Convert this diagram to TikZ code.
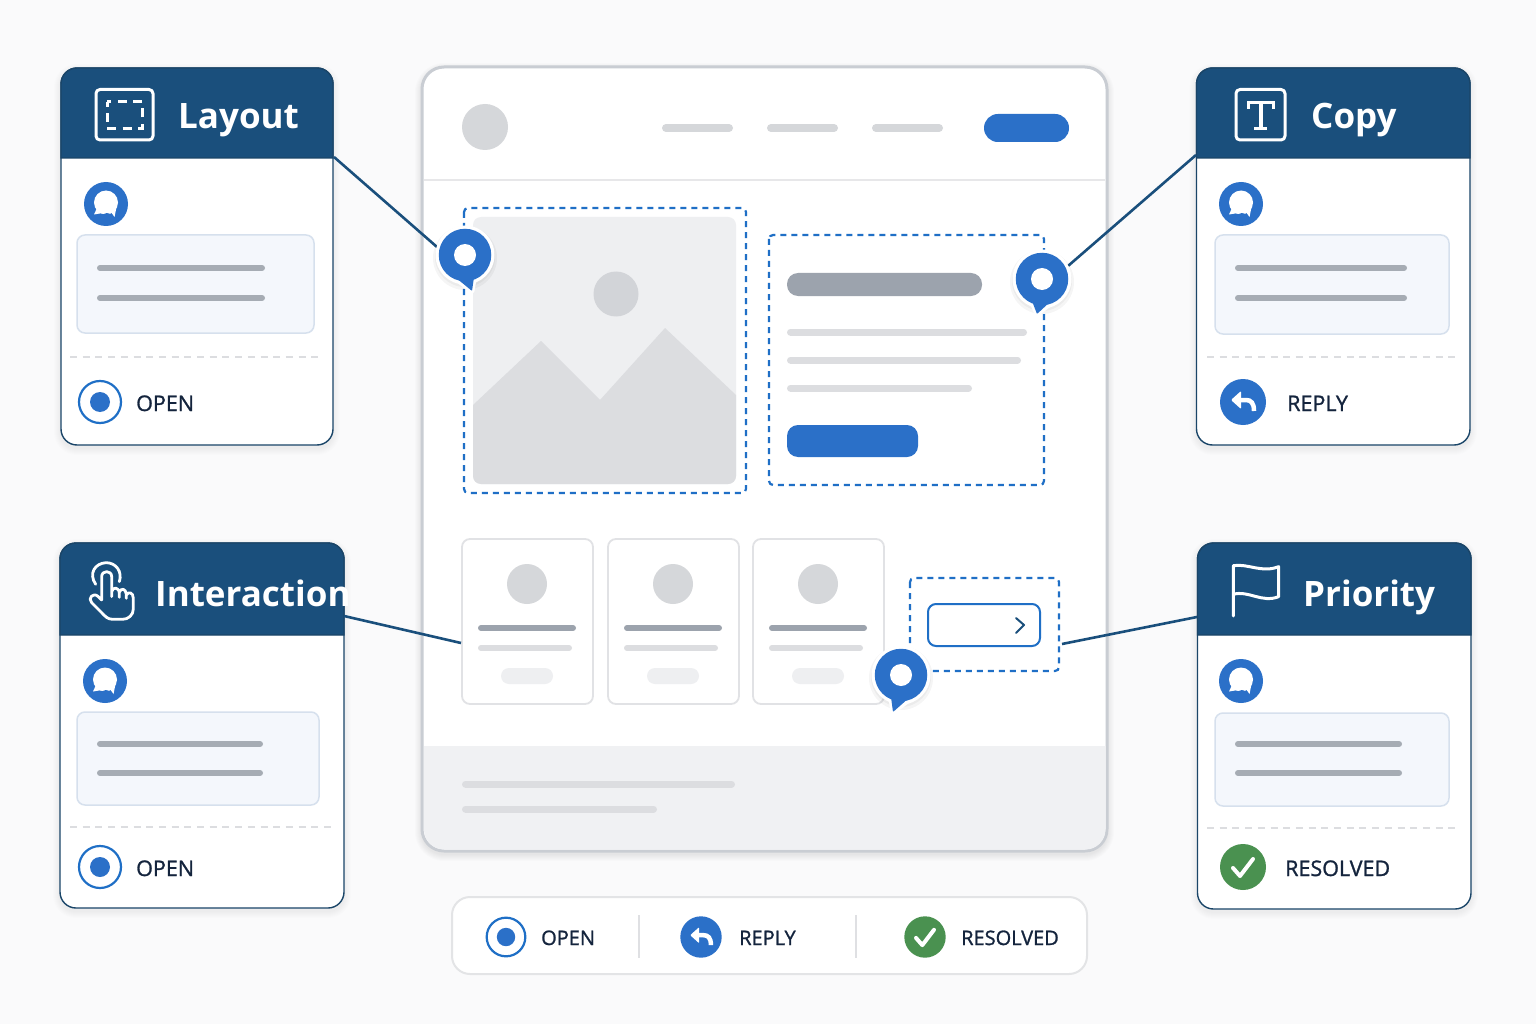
\documentclass[tikz,border=0pt]{standalone}
\usepackage{fontspec}
\setmainfont{Open Sans}
\newfontfamily\titlefont{Open Sans}
\newfontfamily\labelfont[FakeBold=1.2]{Open Sans}
\usetikzlibrary{calc}
\definecolor{pagebg}{HTML}{FAFAFB}
\definecolor{hdrblue}{HTML}{1A4F7C}
\definecolor{edgeblue}{HTML}{1A4568}
\definecolor{pinblue}{HTML}{2B70C8}
\definecolor{dashblue}{HTML}{1F6FC6}
\definecolor{panelline}{HTML}{C9CDD3}
\definecolor{softgray}{HTML}{DCDDE0}
\definecolor{midgray}{HTML}{D5D7DA}
\definecolor{darkbar}{HTML}{9CA3AD}
\definecolor{linebar}{HTML}{A6ACB4}
\definecolor{imagebg}{HTML}{EEEFF1}
\definecolor{footbg}{HTML}{F0F1F3}
\definecolor{notefill}{HTML}{F4F7FC}
\definecolor{noteline}{HTML}{D6E0ED}
\definecolor{inktext}{HTML}{14243D}
\definecolor{okgreen}{HTML}{4A9150}
\tikzset{
  x=1pt,y=-1pt,
  cardbox/.style={draw=edgeblue,line width=1.4pt,fill=white,rounded corners=16pt,inner sep=0pt},
  hdrtext/.style={text=white,anchor=base west,inner sep=0pt,font=\titlefont\bfseries\fontsize{35}{40}\selectfont},
  statetext/.style={text=inktext,anchor=base west,inner sep=0pt,font=\labelfont\fontsize{21.5}{24}\selectfont},
  legendtext/.style={text=inktext,anchor=base west,inner sep=0pt,font=\labelfont\fontsize{20}{24}\selectfont},
  link/.style={draw=hdrblue,line width=2.6pt},
  hdricon/.style={draw=white,line width=3pt,line cap=round,line join=round},
  dashzone/.style={draw=dashblue,line width=2.2pt,dash pattern=on 6pt off 5pt,rounded corners=4pt},
  bar/.style={line cap=round},
}
% horizontal rounded bar: x1 x2 y thickness colour
\newcommand\wbar[5]{\draw[bar,draw=#5,line width=#4pt] ({#1+#4/2},#3) -- ({#2-#4/2},#3);}
\newcommand\softshadow[6]{%
  \foreach \i in {1,...,7}{\fill[black,opacity=#6,rounded corners={#5+\i pt}] ({#1-\i},{#2-\i+3}) rectangle ({#3+\i},{#4+\i+3});}}
\newcommand\bubbleicon[2]{%
  \begin{scope}[shift={(#1,#2)}]
    \fill[pinblue] (0,0) circle (22);
    \fill[white] (0,-1.5) circle (12);
    \fill[white] (-9,4) -- (-12,10.5) -- (-3,9) -- cycle;
    \fill[white] (5,8) -- (8.5,13) -- (10.5,3) -- cycle;
    \fill[white] (-5,5) -- (5,5) -- (5,9) -- (-5,9) -- cycle;
    \fill[pinblue] (-3.5,10.5) .. controls (-1,8.6) and (2,8.6) .. (5,10.5) -- (5,13) -- (-3.5,13) -- cycle;
  \end{scope}}
\newcommand\openicon[3]{%
  \begin{scope}[shift={(#1,#2)},scale=#3]
    \draw[draw=dashblue,line width=2.2pt,fill=white] (0,0) circle (21);
    \fill[pinblue] (0,0) circle (10);
  \end{scope}}
\newcommand\replyicon[3]{%
  \begin{scope}[shift={(#1,#2)},scale=#3]
    \fill[pinblue] (0,0) circle (23);
    \fill[white,rounded corners=1pt] (-12,-2) -- (-2,-11) -- (-2,7) -- cycle;
    \draw[white,line width=4.5pt] (-3,-2) -- (3,-2) .. controls (8,-2) and (11,1) .. (11,9);
  \end{scope}}
\newcommand\okicon[3]{%
  \begin{scope}[shift={(#1,#2)},scale=#3]
    \fill[okgreen] (0,0) circle (23);
    \draw[white,line width=4pt,line cap=round,line join=round] (-10,1) -- (-3,9) -- (10,-8);
  \end{scope}}
\newcommand\pinmark[5]{% name cx cy tipx tipy
  \fill[black,opacity=.04] (#2,{#3+3}) circle (32);
  \fill[black,opacity=.04] (#2,{#3+2}) circle (30);
  \fill[white,line join=round,draw=white,line width=5pt] ($(#2,#3)+(-10,23)$) -- (#4,#5) -- ($(#2,#3)+(9,24)$) -- cycle;
  \fill[white] (#2,#3) circle (29.5);
  \fill[pinblue,rounded corners=.8pt] ($(#2,#3)+(-10,22)$) -- (#4,#5) -- ($(#2,#3)+(9,22)$) -- cycle;
  \node[circle,fill=pinblue,minimum size=52.5pt,inner sep=0pt] (#1) at (#2,#3) {};
  \fill[white] (#2,#3) circle (11);}
% card: name x1 y1 x2 y2 yhead
\newcommand\cardframe[6]{%
  \softshadow{#2}{#3}{#4}{#5}{16pt}{.006}
  \node[cardbox,minimum width={(#4-#2)*1pt},minimum height={(#5-#3)*1pt}] (#1) at ({(#2+#4)/2},{(#3+#5)/2}) {};
  \filldraw[fill=hdrblue,draw=edgeblue,line width=1.4pt] (#2,#6) [rounded corners=16pt] -- (#2,#3) -- (#4,#3) [sharp corners] -- (#4,#6) -- cycle;}
\newcommand\cardnote[4]{%
  \filldraw[fill=notefill,draw=noteline,line width=1.5pt,rounded corners=8pt] (#1,#2) rectangle (#3,#4);}
\begin{document}
\begin{tikzpicture}
\useasboundingbox (0,0) rectangle (1536,1024);
\fill[pagebg] (0,0) rectangle (1536,1024);
% ---------- wireframe page ----------
\softshadow{422}{67}{1107}{851}{22pt}{.012}
\node[draw=panelline,line width=3pt,fill=white,rounded corners=22pt,minimum width=685pt,minimum height=784pt,inner sep=0pt] (page) at (764.5,459) {};
\fill[footbg] (424,746) [rounded corners=20pt] -- (424,849.5) -- (1105.5,849.5) [sharp corners] -- (1105.5,746) -- cycle;
\draw[softgray!70!white,line width=1.5pt] (424,180) -- (1105,180);
\fill[midgray] (485,127) circle (23);
\wbar{662}{733}{128}{8}{midgray}
\wbar{767}{838}{128}{8}{midgray}
\wbar{872}{943}{128}{8}{midgray}
\fill[pinblue,rounded corners=13.9pt] (984,114) rectangle (1069,142);
% image block
\fill[imagebg,rounded corners=8pt] (473,217) rectangle (736,484);
\fill[softgray] (473,405) -- (541,341) -- (600,400) -- (665,328) -- (736,395) [rounded corners=8pt] -- (736,484) -- (473,484) [sharp corners] -- cycle;
\fill[softgray!85!darkbar] (616,294) circle (22.5);
\draw[dashzone] (464,208) rectangle (746,493);
% text block
\draw[dashzone] (769,235) rectangle (1044,485);
\fill[darkbar,rounded corners=11pt] (787,273) rectangle (982,296);
\wbar{787}{1027}{332}{7}{softgray}
\wbar{787}{1021}{360}{7}{softgray}
\wbar{787}{972}{388}{7}{softgray}
\fill[pinblue,rounded corners=11pt] (787,425) rectangle (918,457);
% small cards
\foreach \cx in {0,146,291}{
  \filldraw[fill=white,draw=softgray!85!white,line width=1.8pt,rounded corners=8pt] ({462+\cx},539) rectangle ({593+\cx},704);
  \fill[midgray] ({527+\cx},584) circle (20);
  \wbar{478+\cx}{576+\cx}{628}{6}{darkbar}
  \wbar{478+\cx}{572+\cx}{648}{6}{softgray}
  \fill[imagebg,rounded corners=8pt] ({501+\cx},668) rectangle ({553+\cx},684);
}
% CTA zone
\draw[dashzone] (910,578) rectangle (1059,671);
\draw[dashblue,line width=2pt,rounded corners=8pt,fill=white] (928,604) rectangle (1040,646);
\draw[hdrblue,line width=2pt,line cap=round,line join=round] (1016,618) -- (1024,625) -- (1016,633);
% footer bars
\wbar{462}{735}{784}{7}{softgray}
\wbar{462}{657}{809}{7}{softgray}
% ---------- cards ----------
\cardframe{layoutcard}{61}{68}{333}{445}{158}
\cardframe{copycard}{1196.5}{68}{1470}{445}{158}
\cardframe{interactcard}{60}{543}{344}{908}{635}
\cardframe{prioritycard}{1197.5}{543}{1471}{909}{635}
% header icons
\draw[hdricon,rounded corners=4pt] (96,89.5) rectangle (153,140);
\draw[white,line width=3pt,dash pattern=on 9pt off 6.5pt,dash phase=4pt] (107,102) rectangle (142,129);
\draw[hdricon,rounded corners=4pt] (1236,89.5) rectangle (1285,140);
\draw[white,line width=3pt,line join=miter] (1248.5,109) -- (1248.5,103) -- (1273,103) -- (1273,109);
\draw[white,line width=4pt] (1260.7,103) -- (1260.7,129);
\draw[white,line width=3pt] (1254,129) -- (1267,129);
% hand icon
\begin{scope}[shift={(50,535)},x=.3333pt,y=-.3333pt]
  \draw[hdricon,line width=2.8pt] (137,148) .. controls (115,115) and (135,85) .. (168,83) .. controls (198,83) and (218,110) .. (208,140);
  \draw[hdricon,line width=2.8pt] (155,195) -- (155,125) .. controls (155,105) and (185,105) .. (185,125) -- (185,185)
    (185,170) .. controls (188,155) and (207,155) .. (208,175) -- (208,187)
    (208,172) .. controls (212,158) and (228,160) .. (229,178) -- (229,190)
    (229,180) .. controls (235,168) and (250,172) .. (250,190) -- (250,222) .. controls (250,240) and (235,253) .. (218,253) -- (188,253) .. controls (172,253) and (165,243) .. (155,233) -- (125,203) .. controls (112,190) and (130,170) .. (145,185) -- (155,195);
\end{scope}
% flag icon
\begin{scope}[shift={(1190,535)},x=.3333pt,y=-.3333pt]
  \draw[hdricon,line width=3pt] (130,243) -- (130,92) .. controls (175,85) and (215,115) .. (266,95) -- (266,185) .. controls (215,205) and (175,165) .. (130,178);
\end{scope}
% titles
\node[hdrtext] (tlayout) at (178,129) {Layout};
\node[hdrtext] (tcopy) at (1311,129) {Copy};
\node[hdrtext] (tinteract) at (155,606) {Interaction};
\node[hdrtext] (tpriority) at (1303,606) {Priority};
% card bodies
\bubbleicon{106}{204}
\cardnote{77}{235}{314}{333}
\wbar{97}{265}{268}{6}{linebar}
\wbar{97}{265}{298}{6}{linebar}
\draw[softgray,line width=1.6pt,dash pattern=on 7pt off 5.7pt] (70,357) -- (323,357);
\openicon{100}{402}{1}
\node[statetext] (s1) at (136,411) {OPEN};
\bubbleicon{1241}{204}
\cardnote{1215}{235}{1449}{334}
\wbar{1235}{1407}{268}{6}{linebar}
\wbar{1235}{1407}{298}{6}{linebar}
\draw[softgray,line width=1.6pt,dash pattern=on 7pt off 5.7pt] (1207,357) -- (1459,357);
\replyicon{1243}{402}{1}
\node[statetext] (s2) at (1287,411) {REPLY};
\bubbleicon{105}{681}
\cardnote{77}{712}{319}{805}
\wbar{97}{263}{744}{6}{linebar}
\wbar{97}{263}{773}{6}{linebar}
\draw[softgray,line width=1.6pt,dash pattern=on 7pt off 5.7pt] (70,827) -- (333,827);
\openicon{100}{867}{1}
\node[statetext] (s3) at (136,876) {OPEN};
\bubbleicon{1241}{681}
\cardnote{1215}{713}{1449}{806}
\wbar{1235}{1402}{744}{6}{linebar}
\wbar{1235}{1402}{773}{6}{linebar}
\draw[softgray,line width=1.6pt,dash pattern=on 7pt off 5.7pt] (1207,828) -- (1459,828);
\okicon{1243}{867}{1}
\node[statetext] (s4) at (1285,876) {RESOLVED};
% ---------- connectors ----------
\coordinate (endA) at (437,247);
\coordinate (endB) at (1068,266);
\coordinate (endC) at (461,643);
\coordinate (endD) at (1062,644);
\coordinate (startA) at (334,157);
\coordinate (startB) at (1196,155);
\coordinate (startC) at (344,616);
\coordinate (startD) at (1197,617);
\draw[link] (startA) -- (endA);
\draw[link] (startB) -- (endB);
\draw[link] (startC) -- (endC);
\draw[link] (startD) -- (endD);
% ---------- pins ----------
\pinmark{pinA}{465}{255}{472}{291}
\pinmark{pinB}{1042}{279}{1037}{314}
\pinmark{pinC}{901}{675}{893}{712}
% ---------- legend ----------
\node[draw=softgray!80!white,line width=2pt,fill=white,rounded corners=18pt,minimum width=635pt,minimum height=77pt,inner sep=0pt] (legend) at (769.5,935.5) {};
\draw[softgray!90!white,line width=1.5pt] (639,915) -- (639,958);
\draw[softgray!90!white,line width=1.5pt] (856,915) -- (856,958);
\openicon{506}{937}{.92}
\node[legendtext] (l1) at (541,945) {OPEN};
\replyicon{701}{937}{.9}
\node[legendtext] (l2) at (739,945) {REPLY};
\okicon{925}{937}{.9}
\node[legendtext] (l3) at (961,945) {RESOLVED};
\end{tikzpicture}
\end{document}
